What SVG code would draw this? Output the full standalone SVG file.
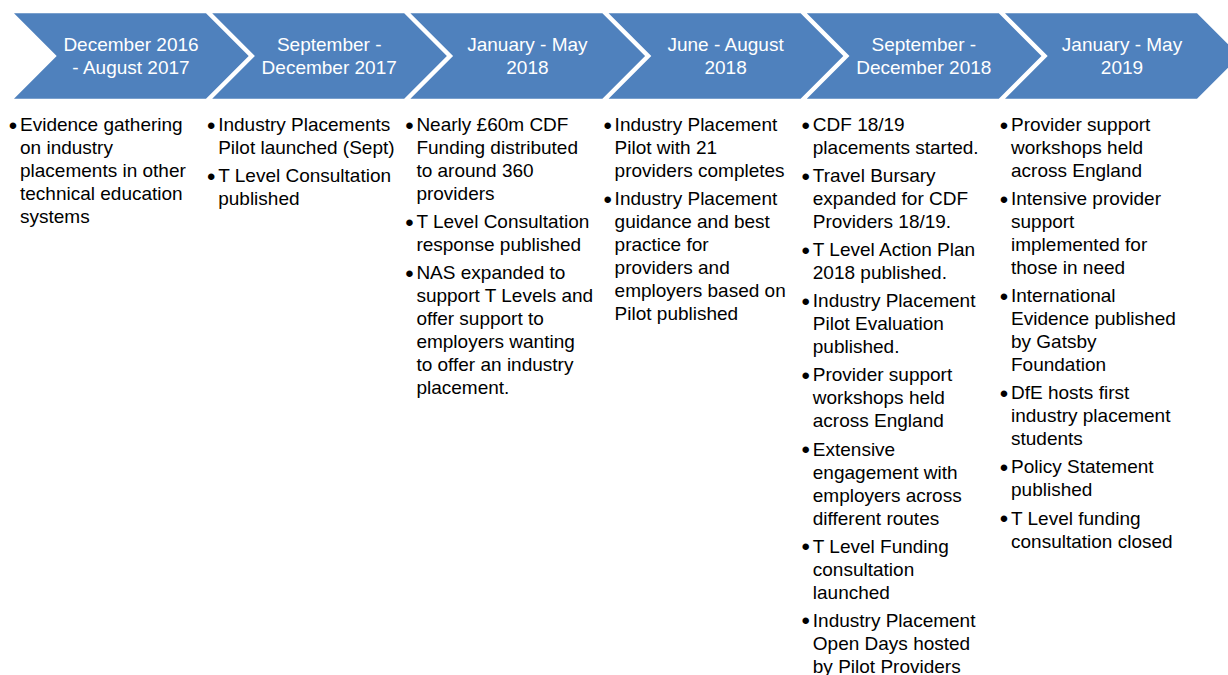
<svg xmlns="http://www.w3.org/2000/svg" width="1228" height="675" viewBox="0 0 1228 675">
<style>
  .chev { fill: #4F81BD; stroke: none; }
  .hd { font-family: "Liberation Sans", Arial, sans-serif; font-size: 19px; fill: #FFFFFF; text-anchor: middle; }
  .bd { font-family: "Liberation Sans", Arial, sans-serif; font-size: 19px; fill: #000000; }
  .bl { font-family: "Liberation Sans", Arial, sans-serif; font-size: 24px; fill: #000000; text-anchor: middle; }
</style>
<defs>
  <polygon id="chevron" class="chev" points="0,13.3 192,13.3 234.7,56 192,98.7 0,98.7 42.7,56"/>
</defs>
<rect width="1228" height="675" fill="#FFFFFF"/>
<g id="connectors"/>

<g id="node1" transform="translate(14,0)">
  <use href="#chevron"/>
  <text class="hd"><tspan x="117" y="51">December 2016</tspan><tspan x="117" y="74">- August 2017</tspan></text>
  <text class="bl" x="-1" y="133.5">•</text>
  <text class="bd"><tspan x="6" y="131">Evidence gathering</tspan><tspan x="6" y="154">on industry</tspan><tspan x="6" y="177">placements in other</tspan><tspan x="6" y="200">technical education</tspan><tspan x="6" y="223">systems</tspan></text>
</g>

<g id="node2" transform="translate(212.2,0)">
  <use href="#chevron"/>
  <text class="hd"><tspan x="117" y="51">September -</tspan><tspan x="117" y="74">December 2017</tspan></text>
  <text class="bl" x="-1" y="133.5">•</text>
  <text class="bl" x="-1" y="184.6">•</text>
  <text class="bd"><tspan x="6" y="131">Industry Placements</tspan><tspan x="6" y="154">Pilot launched (Sept)</tspan><tspan x="6" y="182.1">T Level Consultation</tspan><tspan x="6" y="205.1">published</tspan></text>
</g>

<g id="node3" transform="translate(410.4,0)">
  <use href="#chevron"/>
  <text class="hd"><tspan x="117" y="51">January - May</tspan><tspan x="117" y="74">2018</tspan></text>
  <text class="bl" x="-1" y="133.5">•</text>
  <text class="bl" x="-1" y="230.6">•</text>
  <text class="bl" x="-1" y="281.7">•</text>
  <text class="bd"><tspan x="6" y="131">Nearly £60m CDF</tspan><tspan x="6" y="154">Funding distributed</tspan><tspan x="6" y="177">to around 360</tspan><tspan x="6" y="200">providers</tspan><tspan x="6" y="228.1">T Level Consultation</tspan><tspan x="6" y="251.1">response published</tspan><tspan x="6" y="279.2">NAS expanded to</tspan><tspan x="6" y="302.2">support T Levels and</tspan><tspan x="6" y="325.2">offer support to</tspan><tspan x="6" y="348.2">employers wanting</tspan><tspan x="6" y="371.2">to offer an industry</tspan><tspan x="6" y="394.2">placement.</tspan></text>
</g>

<g id="node4" transform="translate(608.6,0)">
  <use href="#chevron"/>
  <text class="hd"><tspan x="117" y="51">June - August</tspan><tspan x="117" y="74">2018</tspan></text>
  <text class="bl" x="-1" y="133.5">•</text>
  <text class="bl" x="-1" y="207.6">•</text>
  <text class="bd"><tspan x="6" y="131">Industry Placement</tspan><tspan x="6" y="154">Pilot with 21</tspan><tspan x="6" y="177">providers completes</tspan><tspan x="6" y="205.1">Industry Placement</tspan><tspan x="6" y="228.1">guidance and best</tspan><tspan x="6" y="251.1">practice for</tspan><tspan x="6" y="274.1">providers and</tspan><tspan x="6" y="297.1">employers based on</tspan><tspan x="6" y="320.1">Pilot published</tspan></text>
</g>

<g id="node5" transform="translate(806.8,0)">
  <use href="#chevron"/>
  <text class="hd"><tspan x="117" y="51">September -</tspan><tspan x="117" y="74">December 2018</tspan></text>
  <text class="bl" x="-1" y="133.5">•</text>
  <text class="bl" x="-1" y="184.6">•</text>
  <text class="bl" x="-1" y="258.7">•</text>
  <text class="bl" x="-1" y="309.8">•</text>
  <text class="bl" x="-1" y="383.9">•</text>
  <text class="bl" x="-1" y="458">•</text>
  <text class="bl" x="-1" y="555.1">•</text>
  <text class="bl" x="-1" y="629.2">•</text>
  <text class="bd"><tspan x="6" y="131">CDF 18/19</tspan><tspan x="6" y="154">placements started.</tspan><tspan x="6" y="182.1">Travel Bursary</tspan><tspan x="6" y="205.1">expanded for CDF</tspan><tspan x="6" y="228.1">Providers 18/19.</tspan><tspan x="6" y="256.2">T Level Action Plan</tspan><tspan x="6" y="279.2">2018 published.</tspan><tspan x="6" y="307.3">Industry Placement</tspan><tspan x="6" y="330.3">Pilot Evaluation</tspan><tspan x="6" y="353.3">published.</tspan><tspan x="6" y="381.4">Provider support</tspan><tspan x="6" y="404.4">workshops held</tspan><tspan x="6" y="427.4">across England</tspan><tspan x="6" y="455.5">Extensive</tspan><tspan x="6" y="478.5">engagement with</tspan><tspan x="6" y="501.5">employers across</tspan><tspan x="6" y="524.5">different routes</tspan><tspan x="6" y="552.6">T Level Funding</tspan><tspan x="6" y="575.6">consultation</tspan><tspan x="6" y="598.6">launched</tspan><tspan x="6" y="626.7">Industry Placement</tspan><tspan x="6" y="649.7">Open Days hosted</tspan><tspan x="6" y="672.7">by Pilot Providers</tspan></text>
</g>

<g id="node6" transform="translate(1005,0)">
  <use href="#chevron"/>
  <text class="hd"><tspan x="117" y="51">January - May</tspan><tspan x="117" y="74">2019</tspan></text>
  <text class="bl" x="-1" y="133.5">•</text>
  <text class="bl" x="-1" y="207.6">•</text>
  <text class="bl" x="-1" y="304.7">•</text>
  <text class="bl" x="-1" y="401.8">•</text>
  <text class="bl" x="-1" y="475.9">•</text>
  <text class="bl" x="-1" y="527">•</text>
  <text class="bd"><tspan x="6" y="131">Provider support</tspan><tspan x="6" y="154">workshops held</tspan><tspan x="6" y="177">across England</tspan><tspan x="6" y="205.1">Intensive provider</tspan><tspan x="6" y="228.1">support</tspan><tspan x="6" y="251.1">implemented for</tspan><tspan x="6" y="274.1">those in need</tspan><tspan x="6" y="302.2">International</tspan><tspan x="6" y="325.2">Evidence published</tspan><tspan x="6" y="348.2">by Gatsby</tspan><tspan x="6" y="371.2">Foundation</tspan><tspan x="6" y="399.3">DfE hosts first</tspan><tspan x="6" y="422.3">industry placement</tspan><tspan x="6" y="445.3">students</tspan><tspan x="6" y="473.4">Policy Statement</tspan><tspan x="6" y="496.4">published</tspan><tspan x="6" y="524.5">T Level funding</tspan><tspan x="6" y="547.5">consultation closed</tspan></text>
</g>
</svg>
